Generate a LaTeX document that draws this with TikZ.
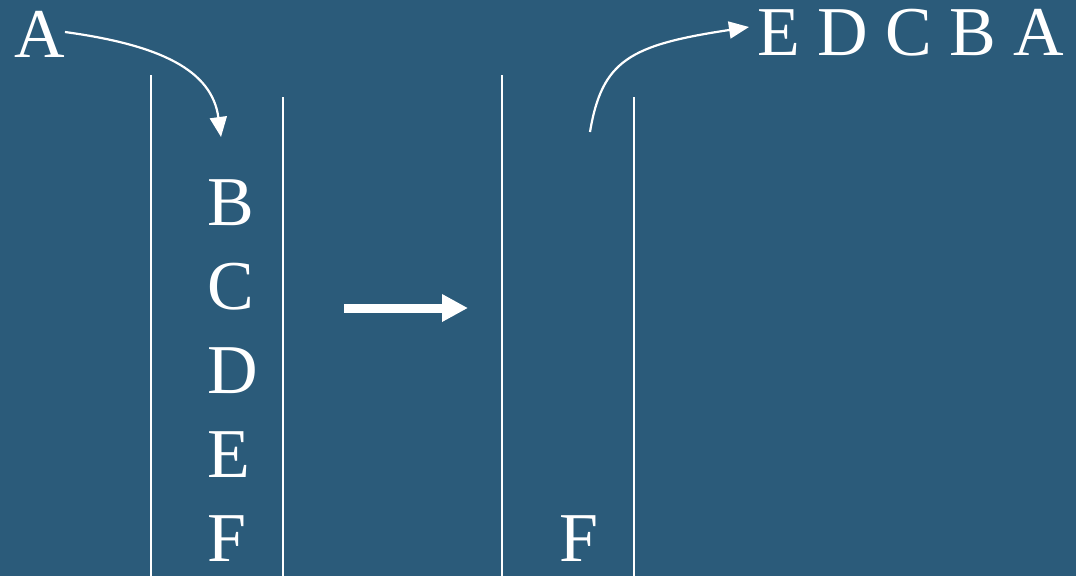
\documentclass[tikz,border=0pt]{standalone}
\usepackage{fontspec}
\setmainfont{Liberation Serif}
\usetikzlibrary{arrows.meta}
\definecolor{bg}{RGB}{43,91,122}
\tikzset{
  lbl/.style={text=white, font=\fontsize{70}{70}\selectfont, inner sep=0pt, anchor=base west},
  wall/.style={draw=white, line width=2pt},
  curvearrow/.style={draw=white, line width=2.2pt, -{Triangle[length=20pt,width=17pt]}},
  bigarrow/.style={draw=white, line width=9pt, -{Triangle[length=26pt,width=26pt]}}
}
\begin{document}
\begin{tikzpicture}[x=1pt,y=-1pt]
\fill[bg] (0,0) rectangle (1076,576);
\useasboundingbox (0,0) rectangle (1076,576);
% walls
\draw[wall] (150.5,75) -- (150.5,576);
\draw[wall] (283,97) -- (283,576);
\draw[wall] (502,75) -- (502,576);
\draw[wall] (634,97) -- (634,576);
% labels
\node[lbl] (A) at (14,57) {A};
\node[lbl] (out) at (757,55) {E D C B A};
\node[lbl] (B) at (207,225) {B};
\node[lbl] (C) at (207,309) {C};
\node[lbl] (D) at (207,393) {D};
\node[lbl] (E) at (207,477) {E};
\node[lbl] (F) at (207,561) {F};
\node[lbl] (F2) at (559,561) {F};
% connectors
\coordinate (pushtip) at (221,137);
\coordinate (popstart) at (590,132);
\coordinate (poptip) at (749,27);
\coordinate (m1) at (344,308);
\coordinate (m2) at (468,308);
\draw[curvearrow] (A.east |- 0,32) .. controls (160,45) and (212,70) .. (pushtip);
\draw[curvearrow] (popstart) .. controls (602,60) and (630,45) .. (poptip);
\draw[bigarrow] (m1) -- (m2);
\end{tikzpicture}
\end{document}
